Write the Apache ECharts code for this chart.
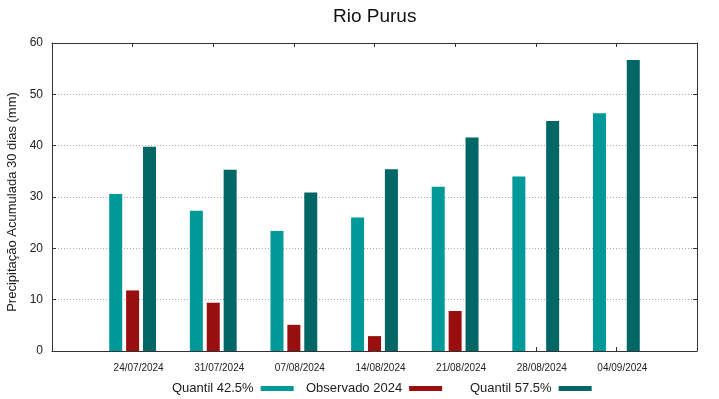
<!DOCTYPE html>
<html>
<head>
<meta charset="utf-8">
<script src="https://cdn.jsdelivr.net/npm/echarts@6/dist/echarts.min.js"></script>
<style>
  html, body { margin: 0; padding: 0; background: #fff; }
  #chart { width: 719px; height: 399px; }
</style>
</head>
<body>
<div id="chart"></div>
<script>
// datas (com categorias vazias nas pontas para o espaçamento do gnuplot)
const datas = ['', '24/07/2024', '31/07/2024', '07/08/2024', '14/08/2024', '21/08/2024', '28/08/2024', '04/09/2024', ''];
const quantil425 = [null, 30.6, 27.3, 23.4, 26.0, 32.0, 34.0, 46.3, null];
const observado2024 = [null, 11.8, 9.4, 5.1, 2.9, 7.8, null, null, null];
const quantil575 = [null, 39.8, 35.3, 30.9, 35.4, 41.6, 44.8, 56.7, null];
const yTicks = [0, 10, 20, 30, 40, 50, 60];

const corCiano = '#009999';
const corVermelho = '#990e0e';
const corEscuro = '#006666';
const fonte = 'Liberation Sans, Arial, sans-serif';

const myChart = echarts.init(document.getElementById('chart'), null, {renderer: 'canvas'});

const legenda = (nome, left) => ({
    data: [nome],
    left: left,
    top: 382,
    padding: 0,
    align: 'right',
    itemWidth: 33,
    itemHeight: 5,
    icon: 'rect',
    textStyle: {fontSize: 13, color: '#222', fontFamily: fonte, padding: [0, 2, 0, 0]}
});

const eixoX = (pos) => ({
    type: 'category',
    data: datas,
    position: pos,
    boundaryGap: false,
    axisLine: {onZero: false, lineStyle: {color: '#333', width: 1}},
    axisTick: {inside: true, length: 4, lineStyle: {color: '#333'}},
    splitLine: {show: false}
});

const eixoY = (pos) => ({
    type: 'value',
    position: pos,
    min: yTicks[0],
    max: yTicks[yTicks.length - 1],
    interval: 10,
    axisLine: {show: true, onZero: false, lineStyle: {color: '#333', width: 1}},
    axisTick: {show: true, inside: true, length: 4, lineStyle: {color: '#333'}}
});

myChart.setOption({
    animation: false,
    title: {
        text: 'Rio Purus',
        left: 328,
        top: 2,
        textStyle: {fontSize: 19, fontWeight: 'normal', color: '#111', fontFamily: fonte}
    },
    legend: [
        legenda('Quantil 42.5%', 172),
        legenda('Observado 2024', 306),
        legenda('Quantil 57.5%', 470)
    ],
    grid: {left: 52, right: 22, top: 43, bottom: 48, containLabel: false, outerBoundsMode: 'none'},
    xAxis: [
        Object.assign(eixoX('bottom'), {
            axisLabel: {interval: 0, fontSize: 10, color: '#222', fontFamily: fonte, margin: 12, padding: [0, 0, 0, 12]}
        }),
        Object.assign(eixoX('top'), {axisLabel: {show: false}})
    ],
    yAxis: [
        Object.assign(eixoY('left'), {
            name: 'Precipitação Acumulada 30 dias (mm)',
            nameLocation: 'middle',
            nameGap: 28,
            nameTextStyle: {fontSize: 13, color: '#222', fontFamily: fonte, padding: [0, 10, 0, 0]},
            axisLabel: {fontSize: 12, color: '#222', fontFamily: fonte, margin: 9},
            splitLine: {show: true, lineStyle: {color: '#aaa', type: [1, 2], width: 1}}
        }),
        Object.assign(eixoY('right'), {axisLabel: {show: false}, splitLine: {show: false}})
    ],
    series: [{
        name: 'Quantil 42.5%',
        type: 'bar',
        data: quantil425,
        barWidth: 13,
        barGap: '30%',
        itemStyle: {color: corCiano}
    }, {
        name: 'Observado 2024',
        type: 'bar',
        data: observado2024,
        barWidth: 13,
        barGap: '30%',
        itemStyle: {color: corVermelho}
    }, {
        name: 'Quantil 57.5%',
        type: 'bar',
        data: quantil575,
        barWidth: 13,
        barGap: '30%',
        itemStyle: {color: corEscuro}
    }]
});
</script>
</body>
</html>
